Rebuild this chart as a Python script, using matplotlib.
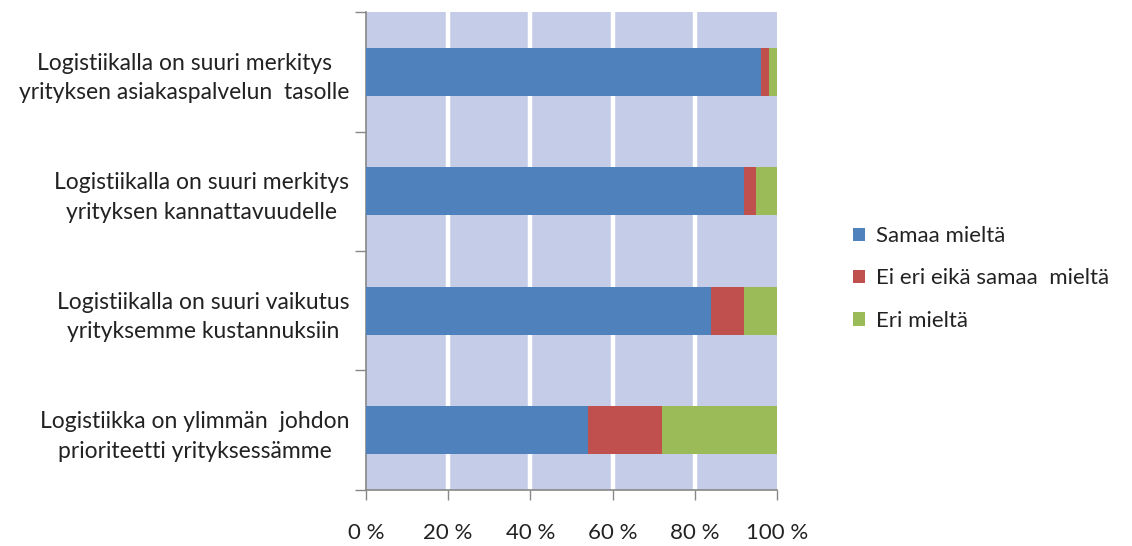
import matplotlib
matplotlib.use("Agg")
import matplotlib.pyplot as plt
from matplotlib.patches import Patch
import numpy as np

plt.rcParams['font.family'] = ['Lato', 'DejaVu Sans']

categories = [
    "Logistiikalla on suuri merkitys\nyrityksen asiakaspalvelun  tasolle",
    "Logistiikalla on suuri merkitys\nyrityksen kannattavuudelle",
    "Logistiikalla on suuri vaikutus\nyrityksemme kustannuksiin",
    "Logistiikka on ylimmän  johdon\nprioriteetti yrityksessämme",
]
samaa = [96, 92, 84, 54]
ei_eri = [2, 3, 8, 18]
eri = [2, 5, 8, 28]
series_names = ["Samaa mieltä", "Ei eri eikä samaa  mieltä", "Eri mieltä"]
colors = ["#4F81BD", "#C0504D", "#9BBB59"]
xticks = [0, 20, 40, 60, 80, 100]
xticklabels = ["0 %", "20 %", "40 %", "60 %", "80 %", "100 %"]

fig = plt.figure(figsize=(11.32, 5.46), dpi=100)
ax = fig.add_axes([0.3233, 0.1026, 0.3631, 0.8754])

ypos = np.arange(len(categories))[::-1]
bar_h = 0.4
left = np.zeros(len(categories))
for vals, c in zip([samaa, ei_eri, eri], colors):
    ax.barh(ypos, vals, left=left, height=bar_h, color=c, zorder=3)
    left += np.array(vals)

ax.set_xlim(0, 100)
ax.set_ylim(-0.5, len(categories) - 0.5)
ax.set_facecolor("#C5CCE7")
for x in xticks[1:-1]:
    ax.axvline(x, color="white", lw=3.2, zorder=2)

ax.set_xticks(xticks)
ax.set_xticklabels(xticklabels, fontsize=16, color="#222222")
ax.tick_params(axis='x', length=7, width=1, color="#888888", pad=17)

ax.set_yticks(ypos)
ax.set_yticklabels(categories, fontsize=16.5, color="#222222",
                   multialignment="center", linespacing=1.5)
ax.tick_params(axis='y', length=0, pad=12)
ax.set_yticks(np.arange(-0.5, len(categories), 1.0), minor=True)
ax.tick_params(axis='y', which='minor', length=8, width=1, color="#888888")

for s in ["top", "right"]:
    ax.spines[s].set_visible(False)
for s in ["left", "bottom"]:
    ax.spines[s].set_color("#888888")
    ax.spines[s].set_linewidth(1.2)

handles = [Patch(facecolor=c, edgecolor="none") for c in colors]
fig.legend(handles, series_names, loc="center left", bbox_to_anchor=(0.736, 0.49),
           frameon=False, fontsize=16, handlelength=0.55, handleheight=0.55,
           handletextpad=0.5, labelspacing=1.0, labelcolor="#222222")

fig.savefig("out.png", dpi=100, facecolor="white")
